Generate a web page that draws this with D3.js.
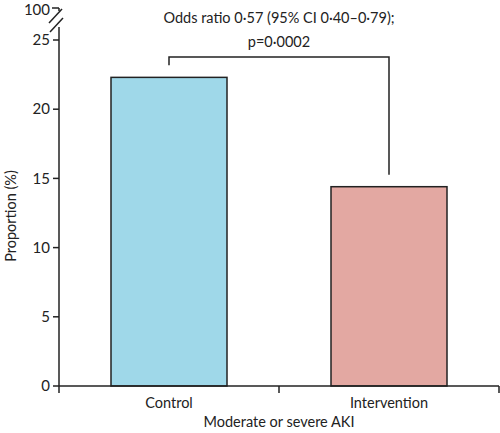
<!DOCTYPE html>
<html>
<head>
<meta charset="utf-8">
<title>Moderate or severe AKI</title>
<script src="https://d3js.org/d3.v7.min.js"></script>
<style>
  body { margin: 0; background: #fff; }
  text { font-family: Lato, sans-serif; fill: #222; }
  .ax { stroke: #222; stroke-width: 1.5px; fill: none; }
</style>
</head>
<body>
<svg id="chart" width="500" height="433"></svg>
<script>
// data
var categories = ["Control", "Intervention"];
var proportions = [22.3, 14.4];
var barColors = ["#9fd8e9", "#e3a8a2"];
var yTicks = [0, 5, 10, 15, 20, 25];
var topTickLabel = "100";
var annotation = ["Odds ratio 0\u00b757 (95% CI 0\u00b740\u20130\u00b779);", "p=0\u00b70002"];

var svg = d3.select("#chart");
var x0 = 59, x1 = 499, yBase = 386, fs = 14.5;

var x = d3.scaleBand().domain(categories).range([x0, x1]).paddingInner(0).paddingOuter(0);
var y = d3.scaleLinear().domain([0, 25]).range([yBase, 40]);
var barW = 116;

// bars
svg.selectAll("rect.bar").data(categories).enter().append("rect")
  .attr("class", "bar")
  .attr("x", function(d) { return x(d) + x.bandwidth() / 2 - barW / 2; })
  .attr("y", function(d, i) { return y(proportions[i]); })
  .attr("width", barW)
  .attr("height", function(d, i) { return yBase - y(proportions[i]); })
  .attr("fill", function(d, i) { return barColors[i]; })
  .attr("stroke", "#222").attr("stroke-width", 1.5);

// y axis (lower part)
svg.append("line").attr("class", "ax").attr("x1", x0).attr("x2", x0).attr("y1", yBase).attr("y2", 27);
svg.selectAll("line.yt").data(yTicks).enter().append("line")
  .attr("class", "ax").attr("x1", x0 - 6).attr("x2", x0)
  .attr("y1", function(d) { return y(d); }).attr("y2", function(d) { return y(d); });
svg.selectAll("text.yl").data(yTicks).enter().append("text")
  .attr("x", x0 - 9).attr("y", function(d) { return y(d); })
  .attr("dy", "0.35em").attr("text-anchor", "end").attr("font-size", 15)
  .text(function(d) { return d; });

// broken top with 100 tick
var yTop = 8;
svg.append("line").attr("class", "ax").attr("x1", x0 - 7).attr("x2", x0).attr("y1", yTop).attr("y2", yTop);
svg.append("line").attr("class", "ax").attr("x1", x0).attr("x2", x0).attr("y1", yTop).attr("y2", 11);
svg.append("line").attr("class", "ax").attr("x1", 49).attr("x2", 62).attr("y1", 23).attr("y2", 9);
svg.append("line").attr("class", "ax").attr("x1", 50).attr("x2", 63).attr("y1", 32).attr("y2", 18);
svg.append("text").attr("x", x0 - 9).attr("y", 15)
  .attr("text-anchor", "end").attr("font-size", 15).text(topTickLabel);

// x axis
svg.append("line").attr("class", "ax").attr("x1", x0).attr("x2", x1).attr("y1", yBase).attr("y2", yBase);
var xTicks = [x0].concat(categories.map(function(d) { return x(d) + x.bandwidth(); }));
svg.selectAll("line.xt").data(xTicks).enter().append("line")
  .attr("class", "ax").attr("x1", function(d) { return d; }).attr("x2", function(d) { return d; })
  .attr("y1", yBase).attr("y2", yBase + 7);
svg.selectAll("text.xl").data(categories).enter().append("text")
  .attr("x", function(d) { return x(d) + x.bandwidth() / 2; }).attr("y", 408)
  .attr("text-anchor", "middle").attr("font-size", fs).text(function(d) { return d; });

// axis titles
svg.append("text").attr("x", (x0 + x1) / 2).attr("y", 427)
  .attr("text-anchor", "middle").attr("font-size", fs).text("Moderate or severe AKI");
svg.append("text").attr("transform", "translate(16,216) rotate(-90)")
  .attr("text-anchor", "middle").attr("font-size", fs).text("Proportion (%)");

// significance bracket
var cx = categories.map(function(d) { return x(d) + x.bandwidth() / 2; });
var bY = 57;
svg.append("path").attr("class", "ax")
  .attr("d", "M" + cx[0] + "," + (y(proportions[0]) - 12) + "V" + bY + "H" + cx[1] + "V" + (y(proportions[1]) - 12));
svg.selectAll("text.ann").data(annotation).enter().append("text")
  .attr("x", (cx[0] + cx[1]) / 2).attr("y", function(d, i) { return 23 + i * 24; })
  .attr("text-anchor", "middle").attr("font-size", fs).text(function(d) { return d; });
</script>
</body>
</html>
